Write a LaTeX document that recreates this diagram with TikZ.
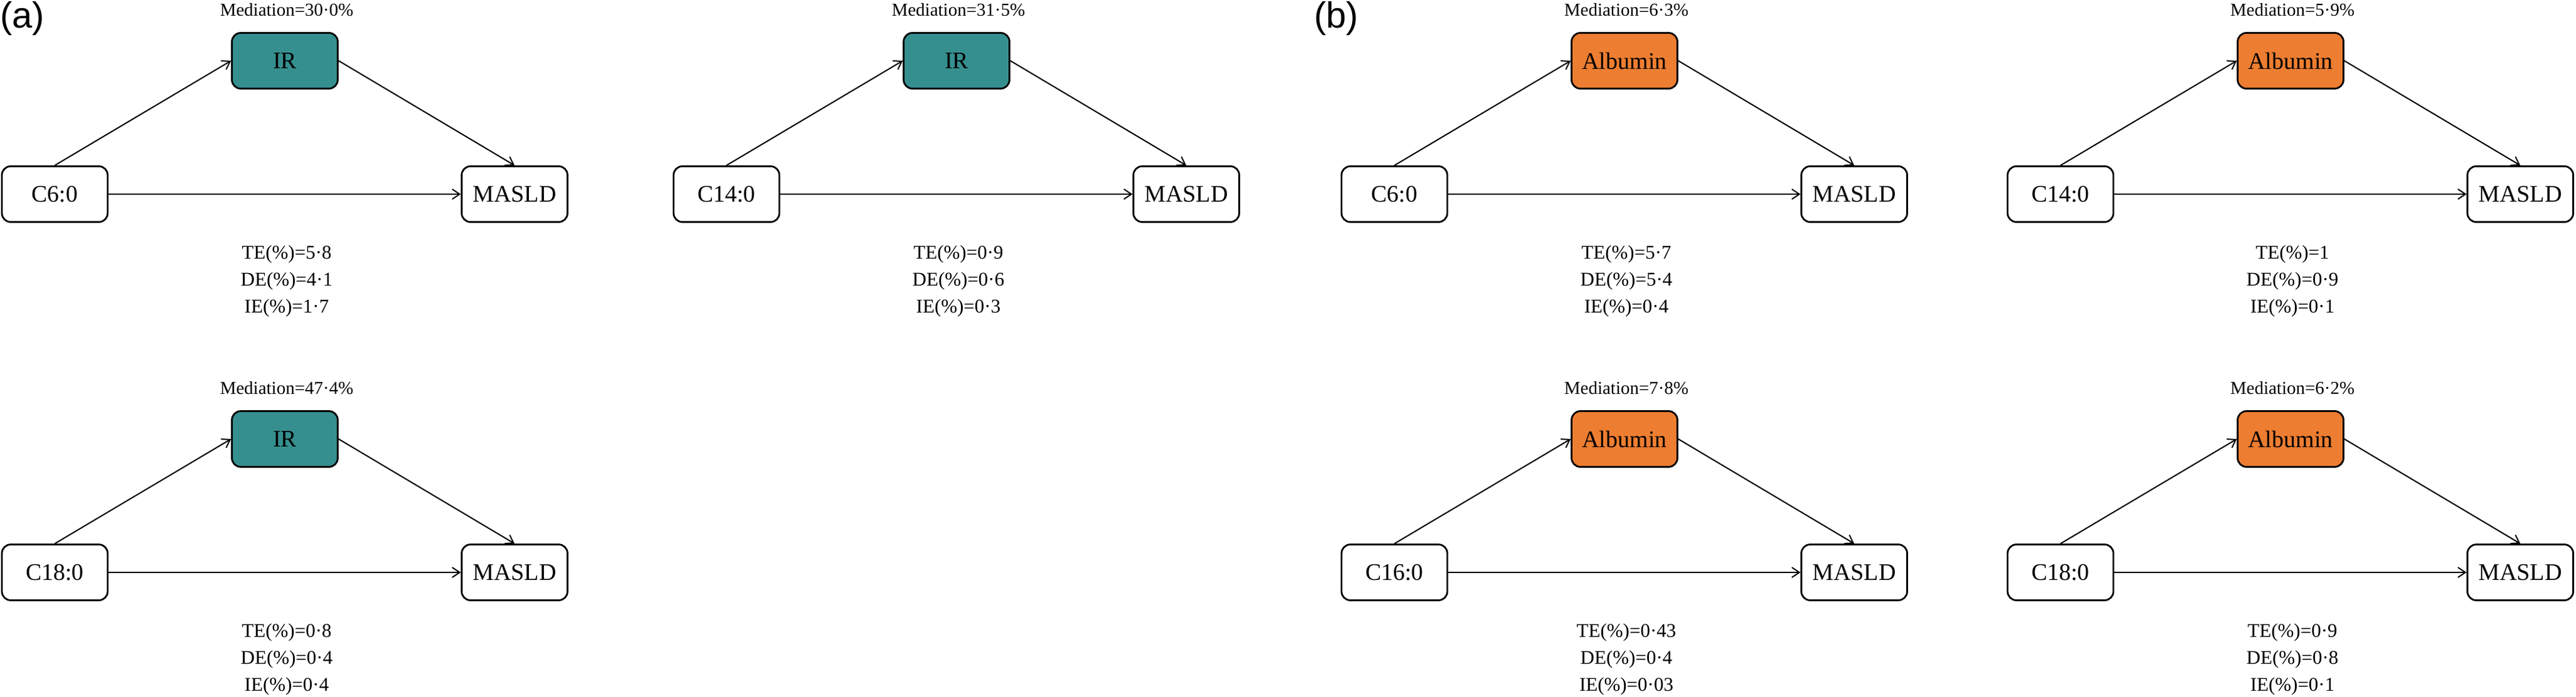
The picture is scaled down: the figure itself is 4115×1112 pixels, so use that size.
\documentclass[tikz,border=0pt]{standalone}
\usepackage{fontspec}
\setmainfont{Liberation Serif}
\newfontfamily\panelfont{Liberation Sans}
\usetikzlibrary{arrows.meta}
\definecolor{irteal}{RGB}{54,143,143}
\definecolor{albor}{RGB}{237,125,49}
\begin{document}
\begin{tikzpicture}
            [x=1pt, y=1pt,
            box/.style={draw, rounded corners=14pt, line width=2.8pt,
                minimum width=169pt, minimum height=89pt, font=\fontsize{38}{40}\selectfont},
            path arrow/.style={-{Straight Barb[length=12pt,width=16pt]}, line width=2pt},
            med text/.style={font=\fontsize{29}{31}\selectfont},
            eff text/.style={font=\fontsize{31}{43}\selectfont, align=center}
            ]
            \useasboundingbox (0,0) rectangle (4115,-1112);
            \node (pa) [anchor=north west, font=\panelfont\fontsize{58}{60}\selectfont, inner sep=0pt] at (0,-2) {(a)};
            \node (pb) [anchor=north west, font=\panelfont\fontsize{58}{60}\selectfont, inner sep=0pt] at (2099,-2) {(b)};

            % one mediation panel per entry
            \foreach \n/\px/\py/\med/\col/\expo/\pct/\te/\de/\ie in {
                1/0/0/IR/irteal/C6:0/30·0/5·8/4·1/1·7,
                2/1073/0/IR/irteal/C14:0/31·5/0·9/0·6/0·3,
                3/0/-604/IR/irteal/C18:0/47·4/0·8/0·4/0·4,
                4/2140/0/Albumin/albor/C6:0/6·3/5·7/5·4/0·4,
                5/3204/0/Albumin/albor/C14:0/5·9/1/0·9/0·1,
                6/2140/-604/Albumin/albor/C16:0/7·8/0·43/0·4/0·03,
                7/3204/-604/Albumin/albor/C18:0/6·2/0·9/0·8/0·1}
            {
            \begin{scope}[shift={(\px,\py)}]
            \node (x\n) [box, fill=white] at (87.5,-310) {\expo};
            \node (m\n) [box, fill=\col] at (455,-97) {\med};
            \node (y\n) [box, fill=white] at (822,-310) {MASLD};
            \node (t\n) [med text] at (458,-16) {Mediation=\pct\%};
            \node (e\n) [eff text] at (458,-449) {TE(\%)=\te\\DE(\%)=\de\\IE(\%)=\ie};
            \draw [path arrow] (x\n.north) -- (m\n.west);
            \draw [path arrow] (m\n.east) -- (y\n.north);
            \draw [path arrow] (x\n.east) -- (y\n.west);
            \end{scope}
            }
        \end{tikzpicture}
\end{document}
